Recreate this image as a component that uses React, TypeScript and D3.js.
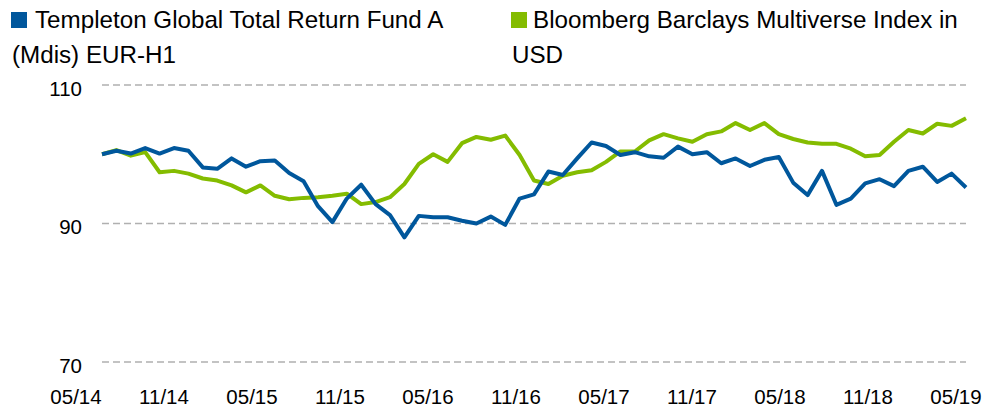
import React from "react";
import * as d3 from "d3";

const xLabels = ["05/14", "11/14", "05/15", "11/15", "05/16", "11/16", "05/17", "11/17", "05/18", "11/18", "05/19"];
const yTicks = [70, 90, 110];

const fundName = "Templeton Global Total Return Fund A";
const fundName2 = "(Mdis) EUR-H1";
const indexName = "Bloomberg Barclays Multiverse Index in";
const indexName2 = "USD";

// monthly values, 05/2014 .. 05/2019
const fund = [
  100.0, 100.5, 100.1, 100.9, 100.1, 100.9, 100.5, 98.1, 97.9, 99.4,
  98.2, 99.0, 99.1, 97.3, 96.1, 92.5, 90.2, 93.6, 95.6, 92.8,
  91.2, 88.0, 91.1, 90.9, 90.9, 90.4, 90.0, 91.0, 89.8, 93.6,
  94.2, 97.5, 97.0, 99.4, 101.7, 101.2, 99.9, 100.3, 99.7, 99.5,
  101.1, 100.0, 100.3, 98.7, 99.4, 98.3, 99.2, 99.6, 95.9, 94.1,
  97.6, 92.7, 93.6, 95.8, 96.4, 95.4, 97.6, 98.2, 96.0, 97.2,
  95.2,
];
const bench = [
  100.0, 100.6, 99.8, 100.3, 97.4, 97.6, 97.2, 96.5, 96.2, 95.5,
  94.5, 95.5, 94.0, 93.5, 93.7, 93.8, 94.0, 94.3, 92.8, 93.1,
  93.8, 95.7, 98.6, 100.0, 98.9, 101.6, 102.5, 102.1, 102.7, 99.9,
  96.2, 95.7, 96.9, 97.4, 97.7, 98.9, 100.4, 100.4, 102.0, 102.9,
  102.3, 101.8, 102.9, 103.3, 104.5, 103.5, 104.5, 102.9, 102.2, 101.7,
  101.5, 101.5, 100.8, 99.7, 99.9, 101.8, 103.5, 103.0, 104.4, 104.1,
  105.2,
];

const W = 997;
const H = 407;
const BLUE = "#00579c";
const GREEN = "#84bc00";
const FONT = "'Liberation Sans', Arial, sans-serif";

export default function App() {
  const x = d3.scaleLinear().domain([0, fund.length - 1]).range([102, 966]);
  const y = d3.scaleLinear().domain([70, 110]).range([362, 85]);
  const xl = d3.scalePoint<string>().domain(xLabels).range([76, 956]);
  const line = d3
    .line<number>()
    .x((_, i) => x(i))
    .y((d) => y(d));

  return (
    <svg
      width={W}
      height={H}
      style={{ position: "absolute", left: 0, top: 0, background: "#fff" }}
      fontFamily={FONT}
    >
      {/* legend */}
      <rect x={11} y={12} width={16} height={16} fill={BLUE} />
      <text x={35} y={28} fontSize={24.2} fill="#000">{fundName}</text>
      <text x={12} y={63} fontSize={24.2} fill="#000">{fundName2}</text>
      <rect x={511} y={12} width={16} height={16} fill={GREEN} />
      <text x={533} y={28} fontSize={24.2} fill="#000">{indexName}</text>
      <text x={512} y={63} fontSize={24.2} fill="#000">{indexName2}</text>

      {/* grid + y labels */}
      {yTicks.map((t) => (
        <g key={t}>
          <line
            x1={102}
            x2={966}
            y1={y(t)}
            y2={y(t)}
            stroke="#b0b0b0"
            strokeWidth={1.5}
            strokeDasharray="7,4"
          />
          <text x={82} y={y(t) + 10.5} fontSize={20.5} textAnchor="end" fill="#000">
            {t}
          </text>
        </g>
      ))}

      {/* x labels */}
      {xLabels.map((l) => (
        <text key={l} x={xl(l)} y={404} fontSize={20.5} textAnchor="middle" fill="#000">
          {l}
        </text>
      ))}

      <path d={line(bench) || ""} fill="none" stroke={GREEN} strokeWidth={4} strokeLinejoin="round" />
      <path d={line(fund) || ""} fill="none" stroke={BLUE} strokeWidth={4} strokeLinejoin="round" />
    </svg>
  );
}
